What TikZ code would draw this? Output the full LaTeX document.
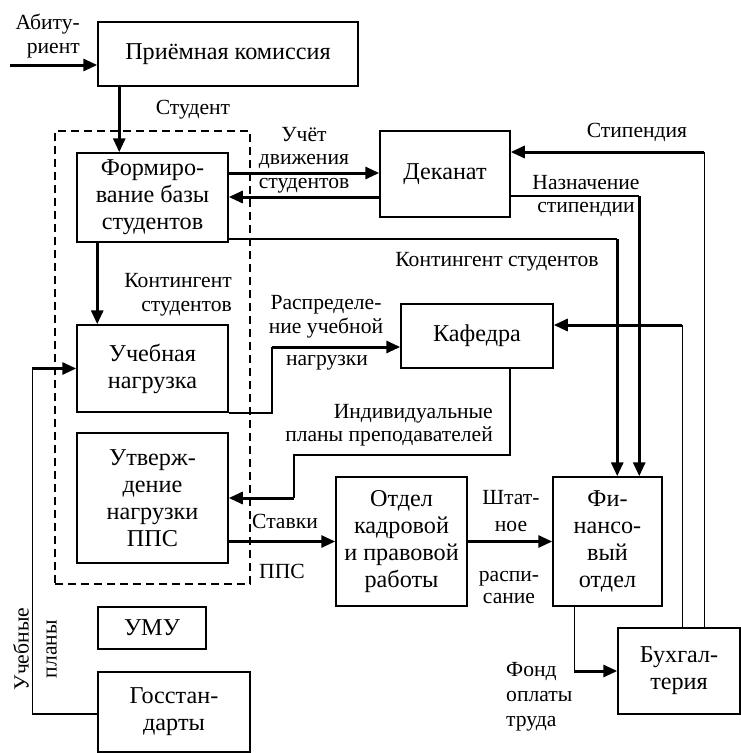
\documentclass[tikz,border=0pt]{standalone}
\usepackage{fontspec}
\setmainfont{Liberation Serif}
\usetikzlibrary{arrows.meta,calc}
\begin{document}
\begin{tikzpicture}[x=1pt,y=-1pt,
 box/.style={draw,line width=1.5pt,inner sep=0pt,align=center,font=\fontsize{24.2}{27}\selectfont},
 lbl/.style={inner sep=0pt,font=\fontsize{21.6}{23.5}\selectfont},
 thk/.style={line width=3pt},
 thn/.style={line width=1.5pt},
 arr/.style={thk,-{Triangle[length=14pt,width=12pt]}},
 grpbox/.style={draw,line width=2pt,dash pattern=on 8pt off 5pt,inner sep=0pt}
]
\useasboundingbox (0,0) rectangle (741,753);
% group
\node[grpbox,minimum width=195pt,minimum height=453pt] (grp) at (152.5,357.5) {};
% boxes
\node[box,minimum width=260pt,minimum height=64pt] (pk) at (228,54) {Приёмная комиссия};
\node[box,minimum width=151pt,minimum height=89pt] (form) at (152.5,197.5) {Формиро-\\вание базы\\студентов};
\node[box,minimum width=151pt,minimum height=87pt] (ucheb) at (152.5,368.5) {Учебная\\нагрузка};
\node[box,minimum width=151pt,minimum height=130pt] (utv) at (152.5,498) {Утверж-\\дение\\нагрузки\\ППС};
\node[box,minimum width=108pt,minimum height=42pt] (umu) at (152,628) {УМУ};
\node[box,minimum width=152pt,minimum height=80pt] (gos) at (174,712) {Госстан-\\дарты};
\node[box,minimum width=130pt,minimum height=86pt] (dek) at (445,174) {Деканат};
\node[box,minimum width=152pt,minimum height=64pt] (kaf) at (477,336) {Кафедра};
\node[box,minimum width=131pt,minimum height=129pt] (otd) at (401.5,541.5) {Отдел\\кадровой\\и правовой\\работы};
\node[box,minimum width=109pt,minimum height=129pt] (fin) at (607.5,541.5) {Фи-\\нансо-\\вый\\отдел};
\node[box,minimum width=122pt,minimum height=86pt] (buh) at (679,671) {Бухгал-\\терия};
% helper coordinates
\coordinate (abin) at (10,65);
\coordinate (k2) at ($(fin.north west)+(65,0)$);
\coordinate (n2) at ($(fin.north west)+(87,0)$);
\coordinate (b1) at ($(buh.north west)+(87,0)$);
\coordinate (b2) at ($(buh.north west)+(65,0)$);
\coordinate (d1) at ($(dek.east)+(0,-22)$);
\coordinate (kf1) at ($(kaf.east)+(0,-11)$);
\coordinate (r0) at ($(ucheb.south east)+(43,0)$);
\coordinate (r1) at ($(kaf.west)+(0,11)$);
\coordinate (i0) at ($(kaf.south)+(33,0)$);
\coordinate (i1) at ($(utv.east)+(65,-43)$);
\coordinate (f0) at ($(fin.south west)+(22,0)$);
\coordinate (g0) at ($(gos.west)+(0,2)$);
\coordinate (g1) at ($(ucheb.west)+(-44,0)$);
% connectors
\draw[arr] (abin) -- (abin -| pk.west);
\draw[arr] ($(pk.south west)+(22,0)$) coordinate (s1) -- (s1 |- form.north);
\draw[arr] ($(form.east)+(0,-24.5)$) coordinate (u1) -- (u1 -| dek.west);
\draw[arr] ($(dek.west)+(0,23)$) coordinate (u2) -- (u2 -| form.east);
\draw[thn] ($(form.south east)+(0,-4)$) coordinate (k1) -- (k1 -| k2);
\draw[arr] (k1 -| k2) -- (k2);
\draw[thn] ($(dek.east)+(0,22)$) coordinate (n1) -- (n1 -| n2);
\draw[arr] (n1 -| n2) -- (n2);
\draw[thn] (b1) -- (b1 |- d1);
\draw[arr] (b1 |- d1) -- (d1);
\draw[thn] (b2) -- (b2 |- kf1);
\draw[arr] (b2 |- kf1) -- (kf1);
\draw[thn] (ucheb.south east) -- (r0) -- (r0 |- r1);
\draw[arr] (r0 |- r1) -- (r1);
\draw[thn] (i0) -- (i0 |- i1) -- (i1) -- (i1 |- utv.east);
\draw[arr] (i1 |- utv.east) -- (utv.east);
\draw[arr] (otd.west -| utv.east) -- (otd.west);
\draw[arr] (otd.east) -- (fin.west);
\draw[thn] (f0) -- (f0 |- buh.west);
\draw[arr] (f0 |- buh.west) -- (buh.west);
\draw[thn] (g0) -- (g0 -| g1) -- (g1);
\draw[arr] (g1) -- (ucheb.west);
\draw[arr] ($(form.south west)+(21,0)$) coordinate (c0) -- (c0 |- ucheb.north);
% labels
\node[lbl,align=right,anchor=east] (lab1) at (80,36) {Абиту-\\риент};
\node[lbl] (lab2) at (193,110) {Студент};
\node[lbl,align=center] (lab3) at (304,160) {Учёт\\движения\\студентов};
\node[lbl] (lab4) at (637,132) {Стипендия};
\node[lbl,align=center] (lab5) at (586,196) {Назначение\\стипендии};
\node[lbl] (lab6) at (497,262) {Контингент студентов};
\node[lbl,align=right,anchor=east] (lab7) at (232,295) {Контингент\\студентов};
\node[lbl,align=center] (lab8) at (326,317) {Распределе-\\ние учебной};
\node[lbl] (lab9) at (327,363) {нагрузки};
\node[lbl,align=right,anchor=east] (lab10) at (493,425) {Индивидуальные\\планы преподавателей};
\node[lbl] (lab11) at (285,521) {Ставки};
\node[lbl] (lab12) at (282,571) {ППС};
\node[lbl,align=center,font=\fontsize{21.6}{27}\selectfont] (lab13) at (511,511) {Штат-\\ное};
\node[lbl,align=center,font=\fontsize{21.6}{22}\selectfont] (lab14) at (509,588) {распи-\\сание};
\node[lbl,align=left,anchor=west,font=\fontsize{21.6}{25}\selectfont] (lab15) at (506,697) {Фонд\\оплаты\\труда};
\node[lbl,align=center,rotate=90,font=\fontsize{21.6}{28}\selectfont] (lab16) at (35,649) {Учебные\\планы};
\end{tikzpicture}
\end{document}
